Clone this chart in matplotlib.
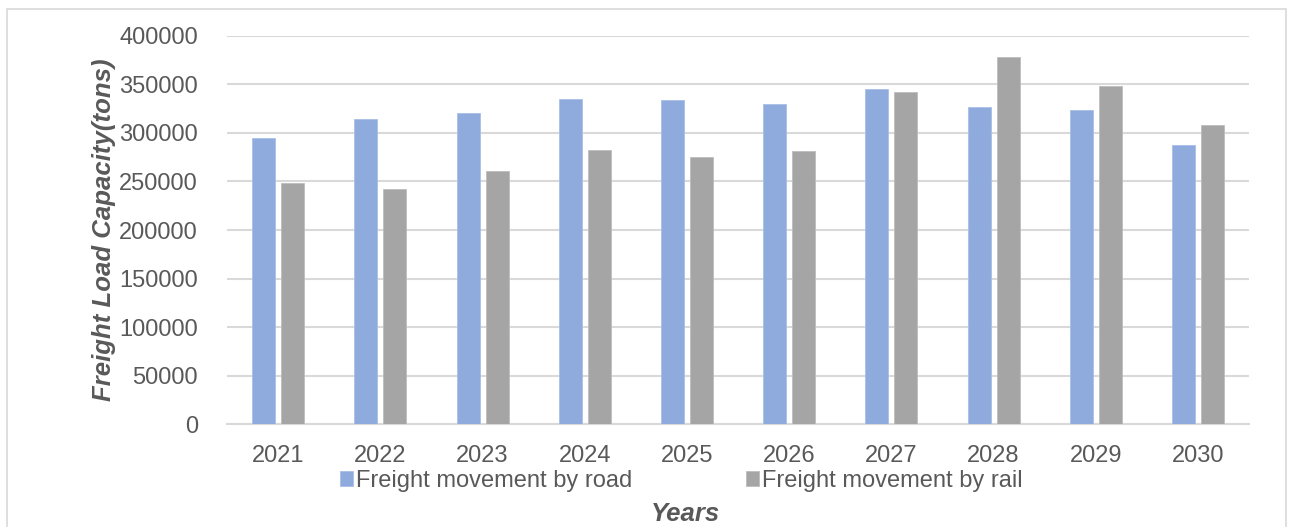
import matplotlib as mpl
import matplotlib.pyplot as plt
import numpy as np

# %% Data

years = ["2021", "2022", "2023", "2024", "2025", "2026", "2027", "2028", "2029", "2030"]
road = [295000, 314000, 320000, 334500, 333500, 329500, 345000, 326500, 323500, 288000]
rail = [248000, 242000, 260500, 282500, 275000, 281500, 342500, 378000, 348500, 308000]
y_ticks = [0, 50000, 100000, 150000, 200000, 250000, 300000, 350000, 400000]

# %% Plot

plt.rcParams["font.family"] = ["Liberation Sans", "DejaVu Sans"]
text_c = "#595959"
grid_c = "#d9d9d9"

fig = plt.figure(figsize=(12.93, 5.27), dpi=100)
ax = fig.add_axes([0.1756, 0.1945, 0.7904, 0.7378])

# outer chart border
fig.patches.append(
    mpl.patches.Rectangle(
        (7 / 1293, -0.01), 1 - 14 / 1293, 1 - 9 / 527 + 0.01,
        transform=fig.transFigure, fill=False, edgecolor=grid_c, linewidth=1.2,
    )
)

x = np.arange(len(years))
w = 0.225
off = 0.142
ax.bar(x - off, road, width=w, color="#8FAADC", edgecolor="#a9bfe6", linewidth=0.6,
       label="Freight movement by road", zorder=3)
ax.bar(x + off, rail, width=w, color="#A5A5A5", edgecolor="#bdbdbd", linewidth=0.6,
       label="Freight movement by rail", zorder=3)

ax.set_xlim(-0.5, len(years) - 0.5)
ax.set_ylim(0, 400000)
ax.set_yticks(y_ticks)
ax.set_xticks(x)
ax.set_xticklabels(years)
ax.yaxis.grid(True, color=grid_c, linewidth=1.5, zorder=0)
ax.set_axisbelow(True)

for s in ["top", "right", "left"]:
    ax.spines[s].set_visible(False)
ax.spines["bottom"].set_color(grid_c)
ax.spines["bottom"].set_linewidth(1.5)

ax.tick_params(axis="both", length=0, labelsize=17, labelcolor=text_c)
ax.tick_params(axis="y", pad=21)
ax.tick_params(axis="x", pad=15)

ax.set_ylabel("Freight Load Capacity(tons)", fontsize=18.5, fontweight="bold",
              fontstyle="italic", color=text_c, labelpad=2)
fig.text(0.53, 0.025, "Years", fontsize=18.5, fontweight="bold", fontstyle="italic",
         color=text_c, ha="center", va="center")

leg = fig.legend(
    loc="center", bbox_to_anchor=(0.527, 0.087), ncol=2, frameon=False,
    fontsize=17, handlelength=0.55, handleheight=0.6, handletextpad=0.15,
    columnspacing=4.8, labelcolor=text_c,
)

fig.savefig("out.png", dpi=100)
